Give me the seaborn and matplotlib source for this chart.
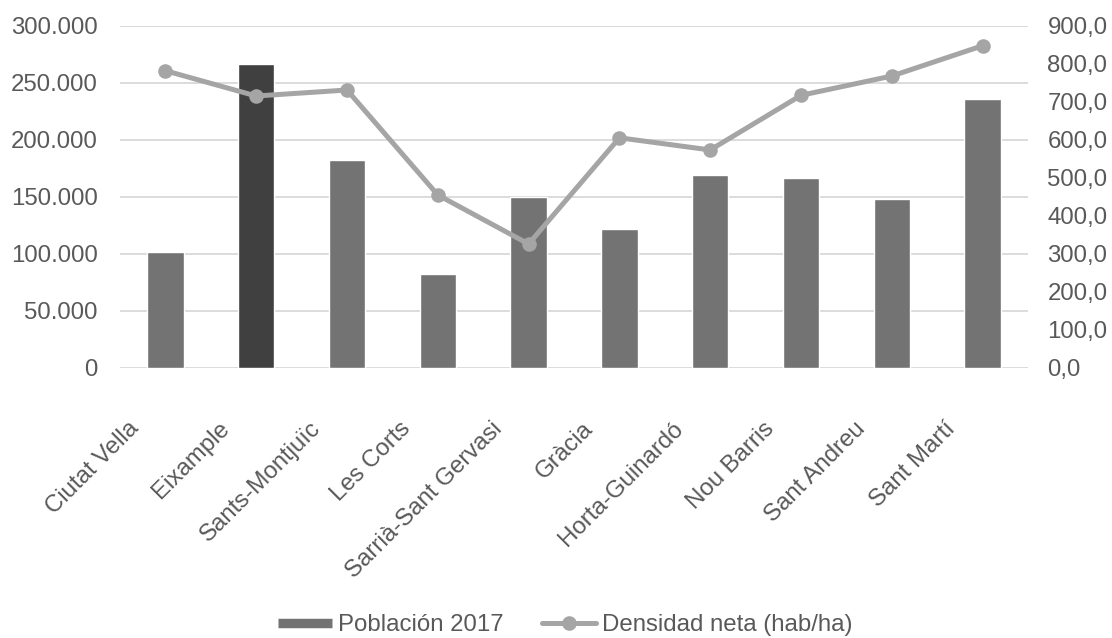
import numpy as np
import pandas as pd
import matplotlib
matplotlib.use("Agg")
import matplotlib.pyplot as plt
from matplotlib.ticker import FuncFormatter, MultipleLocator
from matplotlib.lines import Line2D
from matplotlib.transforms import ScaledTranslation
import seaborn as sns

# Districts of Barcelona
districts = ["Ciutat Vella", "Eixample", "Sants-Montjuïc", "Les Corts",
             "Sarrià-Sant Gervasi", "Gràcia", "Horta-Guinardó", "Nou Barris",
             "Sant Andreu", "Sant Martí"]
# Population 2017 (left axis)
population_2017 = [101200, 266400, 181900, 81900, 149500,
                   121400, 168800, 166100, 147700, 235400]
# Net density, inhabitants per hectare (right axis)
net_density = [781.6, 715.0, 730.8, 454.5, 325.5,
               605.0, 573.0, 716.8, 767.6, 847.4]

bar_label = "Población 2017"
line_label = "Densidad neta (hab/ha)"

BAR = "#737373"
BAR_DARK = "#404040"
LINE = "#A5A5A5"
GRID = "#D9D9D9"
TEXT = "#595959"

sns.set_theme(style="white")
plt.rcParams["font.family"] = ["Liberation Sans", "DejaVu Sans"]
FS = 17.3

df = pd.DataFrame({"distrito": districts,
                   "poblacion": population_2017,
                   "densidad": net_density,
                   "pos": np.arange(len(districts))})
palette = {d: (BAR_DARK if d == "Eixample" else BAR) for d in districts}

fig = plt.figure(figsize=(11.12, 6.38), dpi=100)
ax = fig.add_axes([0.1079, 0.4237, 0.8166, 0.5360])

sns.barplot(data=df, x="distrito", y="poblacion", hue="distrito",
            palette=palette, width=0.4, legend=False, saturation=1,
            ax=ax, zorder=2)
ax.set_xlim(-0.5, len(districts) - 0.5)
ax.set_ylim(0, 300000)
ax.yaxis.set_major_locator(MultipleLocator(50000))
ax.yaxis.set_major_formatter(FuncFormatter(lambda v, p: f"{int(v):,}".replace(",", ".")))
ax.grid(axis="y", color=GRID, linewidth=1.3, zorder=0)
ax.set_axisbelow(True)
ax.set_xlabel("")
ax.set_ylabel("")
for s in ax.spines.values():
    s.set_visible(False)
ax.tick_params(axis="y", length=0, pad=16, labelsize=FS, labelcolor=TEXT)
ax.tick_params(axis="x", length=0, pad=36, labelsize=FS, labelcolor=TEXT)
ax.set_xticks(np.arange(len(districts)))
ax.set_xticklabels(districts, rotation=45, ha="right", va="top",
                   rotation_mode="anchor")
shift = ScaledTranslation(-0.38, 0, fig.dpi_scale_trans)
for lab in ax.get_xticklabels():
    lab.set_transform(lab.get_transform() + shift)

ax2 = ax.twinx()
sns.lineplot(data=df, x="pos", y="densidad", sort=False, color=LINE,
             linewidth=3.6, marker="o", markersize=10.5,
             markeredgewidth=0, ax=ax2, zorder=3)
ax2.set_ylim(0, 900)
ax2.yaxis.set_major_locator(MultipleLocator(100))
ax2.yaxis.set_major_formatter(FuncFormatter(lambda v, p: f"{v:.1f}".replace(".", ",")))
ax2.set_xlabel("")
ax2.set_ylabel("")
for s in ax2.spines.values():
    s.set_visible(False)
ax2.tick_params(axis="y", length=0, pad=14, labelsize=FS, labelcolor=TEXT)
ax2.grid(False)

handles = [Line2D([], [], color=BAR, linewidth=6.8, solid_capstyle="butt"),
           Line2D([], [], color=LINE, linewidth=3.6, marker="o",
                  markersize=10.5, markeredgewidth=0)]
fig.legend(handles, [bar_label, line_label], loc="center",
           bbox_to_anchor=(0.508, 0.02), ncol=2, frameon=False,
           fontsize=FS, labelcolor=TEXT, handlelength=2.25,
           handletextpad=0.25, columnspacing=1.6)

fig.savefig("out.png", dpi=100)
